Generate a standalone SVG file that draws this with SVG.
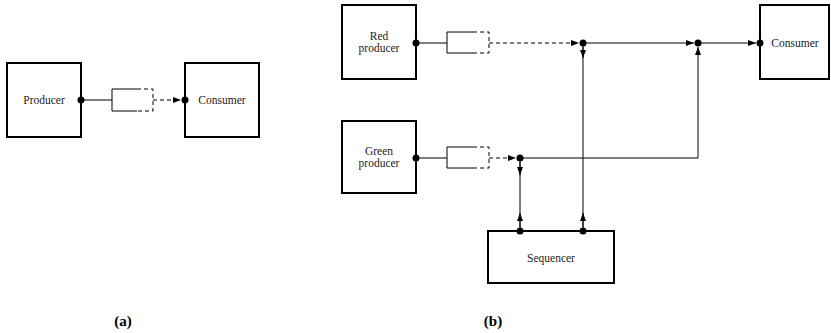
<svg xmlns="http://www.w3.org/2000/svg" width="831" height="333" viewBox="0 0 831 333">
<defs>
<marker id="arr" markerUnits="userSpaceOnUse" markerWidth="8" markerHeight="6" refX="8" refY="3" orient="auto">
<path d="M0,0 L8,3 L0,6 z" fill="#000"/>
</marker>
<style>
.box{fill:#fff;stroke:#000;stroke-width:2}
.ln{fill:none;stroke:#000;stroke-width:1}
.dash{fill:none;stroke:#000;stroke-width:1;stroke-dasharray:4,3}
.dot{fill:#000}
.t{font-family:"Liberation Serif","Times New Roman",serif;font-size:11.5px;fill:#222;text-anchor:middle}
.cap{font-family:"Liberation Serif","Times New Roman",serif;font-size:15px;font-weight:bold;fill:#000;text-anchor:middle}
</style>
</defs>
<rect width="831" height="333" fill="#fff"/>

<g id="producer-a"><rect class="box" x="7" y="63" width="74" height="74"/><text class="t" x="44" y="104">Producer</text></g>
<g id="consumer-a"><rect class="box" x="185" y="63" width="74" height="74"/><text class="t" x="222" y="104">Consumer</text></g>

<g id="red-producer"><rect class="box" x="342" y="5" width="74" height="74"/><text class="t" x="379" y="40">Red</text><text class="t" x="379" y="52">producer</text></g>
<g id="green-producer"><rect class="box" x="342" y="121" width="74" height="72"/><text class="t" x="379" y="155">Green</text><text class="t" x="379" y="167">producer</text></g>
<g id="consumer-b"><rect class="box" x="760" y="5" width="69" height="74"/><text class="t" x="795" y="47">Consumer</text></g>
<g id="sequencer"><rect class="box" x="488" y="231" width="126" height="52"/><text class="t" x="551" y="262">Sequencer</text></g>

<g id="connectors">
<!-- (a) -->
<line class="ln" x1="81" y1="100" x2="112" y2="100"/>
<path class="ln" d="M137,89 H112 V111 H137"/>
<path class="dash" d="M137,89 H153 V111 H137"/>
<line class="dash" x1="153" y1="100" x2="181" y2="100" marker-end="url(#arr)"/>
<circle class="dot" cx="81" cy="100" r="3.5"/>
<circle class="dot" cx="185" cy="100" r="3.5"/>

<!-- (b) red -->
<line class="ln" x1="416" y1="43" x2="447" y2="43"/>
<path class="ln" d="M473,32 H447 V53 H473"/>
<path class="dash" d="M473,32 H489 V53 H473"/>
<line class="dash" x1="489" y1="43" x2="579" y2="43" marker-end="url(#arr)"/>
<line class="ln" x1="583" y1="43" x2="694" y2="43" marker-end="url(#arr)"/>
<line class="ln" x1="698" y1="43" x2="756" y2="43" marker-end="url(#arr)"/>

<!-- (b) green -->
<line class="ln" x1="416" y1="158" x2="447" y2="158"/>
<path class="ln" d="M473,147 H447 V168 H473"/>
<path class="dash" d="M473,147 H489 V168 H473"/>
<line class="dash" x1="489" y1="158" x2="516" y2="158" marker-end="url(#arr)"/>
<path class="ln" d="M520,158 H698 V47" marker-end="url(#arr)"/>

<!-- verticals to sequencer -->
<line class="ln" x1="583" y1="43" x2="583" y2="231"/>
<line class="ln" x1="583" y1="47" x2="583" y2="58" marker-end="url(#arr)"/>
<line class="ln" x1="583" y1="227" x2="583" y2="213" marker-end="url(#arr)"/>
<line class="ln" x1="520" y1="158" x2="520" y2="231"/>
<line class="ln" x1="520" y1="162" x2="520" y2="175" marker-end="url(#arr)"/>
<line class="ln" x1="520" y1="227" x2="520" y2="213" marker-end="url(#arr)"/>

<circle class="dot" cx="416" cy="43" r="3.5"/>
<circle class="dot" cx="583" cy="43" r="3.5"/>
<circle class="dot" cx="698" cy="43" r="3.5"/>
<circle class="dot" cx="760" cy="43" r="3.5"/>
<circle class="dot" cx="416" cy="158" r="3.5"/>
<circle class="dot" cx="520" cy="158" r="3.5"/>
<circle class="dot" cx="520" cy="231" r="3.5"/>
<circle class="dot" cx="583" cy="231" r="3.5"/>
</g>

<text class="cap" x="123" y="326">(a)</text>
<text class="cap" x="493" y="326">(b)</text>
</svg>
